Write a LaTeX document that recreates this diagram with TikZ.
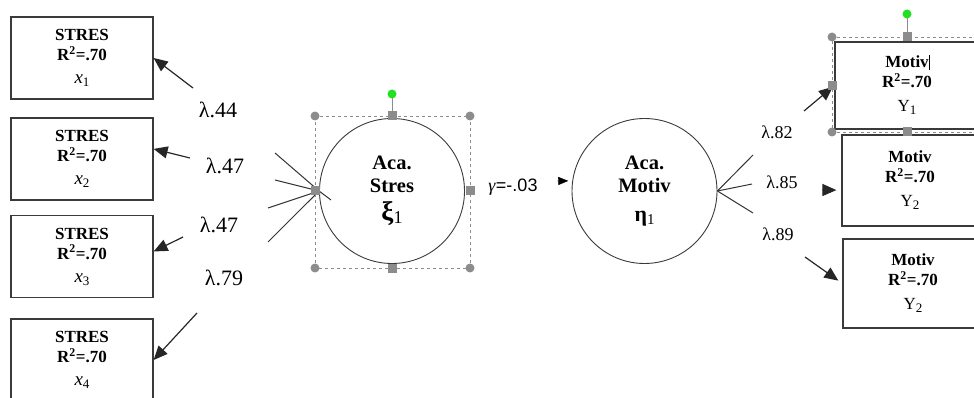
\documentclass[tikz,border=0pt]{standalone}
\usepackage{fontspec}
\setmainfont{Liberation Serif}
\newfontfamily\arialfont{Liberation Sans}
\usetikzlibrary{arrows.meta,calc}
\definecolor{edgeGray}{HTML}{3A3A3A}
\definecolor{hdlGray}{HTML}{8C8C8C}
\definecolor{rotGreen}{HTML}{22E022}
\newcommand{\lowidx}[2][13]{\raisebox{-3pt}{\fontsize{#1}{#1}\selectfont #2}}
\newcommand{\obsX}[2]{\textbf{STRES}\\\textbf{R\textsuperscript{2}=.70}\\[3pt]{\fontsize{19}{19}\selectfont\textit{#1}}\lowidx{#2}}
\newcommand{\obsY}[1]{\textbf{Motiv}\\\textbf{R\textsuperscript{2}=.70}\\[4pt]Y\lowidx{#1}}

\begin{document}
\begin{tikzpicture}[x=1pt,y=-1pt,
      ind/.style={draw=edgeGray,line width=1.2pt,minimum width=142pt,minimum height=82pt,
                  align=center,inner sep=0pt,font=\fontsize{17}{20}\selectfont},
      lat/.style={circle,draw=edgeGray,line width=0.9pt,minimum size=145pt,align=center,
                  inner sep=0pt,font=\fontsize{20.5}{23}\selectfont},
      arr/.style={draw=black!85,line width=1.2pt,-{Triangle[length=14pt,width=12pt]}},
      spoke/.style={draw=black!80,line width=1pt},
      lamL/.style={font=\fontsize{22}{24}\selectfont},
      lamR/.style={font=\fontsize{18}{20}\selectfont},
      sel/.style={draw=hdlGray,dashed,line width=0.6pt}]
    \useasboundingbox (0,0) rectangle (974,398);
    \clip (0,0) rectangle (974,398);

    % observed x
    \node[ind] (x1) at (82,58)    {\obsX{x}{1}};
    \node[ind] (x2) at (82,159)   {\obsX{x}{2}};
    \node[ind] (x3) at (82,256.5) {\obsX{x}{3}};
    \node[ind] (x4) at (82,360)   {\obsX{x}{4}};

    % latents
    \node[lat] (xi)  at (392,191)   {\textbf{Aca.}\\\textbf{Stres}\\[5pt]{\fontsize{27}{27}\selectfont\textbf{ξ}}\lowidx[18]{1}};
    \node[lat] (eta) at (644.5,191) {\textbf{Aca.}\\\textbf{Motiv}\\[6pt]{\fontsize{22}{22}\selectfont\textbf{η}}\lowidx[15]{1}};

    % observed y
    \node[ind,minimum width=144pt,minimum height=87pt] (Y1) at (907,85.5)  {\obsY{1}};
    \node[ind,minimum width=136pt,minimum height=91pt] (Y2) at (910,180.5) {\obsY{2}};
    \node[ind,minimum width=140pt,minimum height=89pt] (Y3) at (913,283.5) {\obsY{2}};

    % loadings x
    \coordinate (s1) at (193,88);
    \coordinate (s2) at (190,158);
    \coordinate (s3) at (183,237);
    \coordinate (s4) at (197,313);
    \draw[arr] (s1) -- (x1.east);
    \draw[arr] (s2) -- (x2.8);
    \draw[arr] (s3) -- (x3.4);
    \draw[arr] (s4) -- (x4.east);
    \node[lamL] (l1) at (218,110) {λ.44};
    \node[lamL] (l2) at (225,166) {λ.47};
    \node[lamL] (l3) at (219,225) {λ.47};
    \node[lamL] (l4) at (224,278) {λ.79};

    \coordinate (a1) at (275,153);
    \coordinate (a2) at (275,180);
    \coordinate (a3) at (268,208);
    \coordinate (a4) at (268,242);
    \foreach \i in {1,...,4}
      \draw[spoke] (a\i) -- (xi.west);
    \coordinate (a5) at (331,200);
    \draw[spoke] (xi.west) -- (a5);

    % gamma
    \node[font=\fontsize{18}{20}\selectfont] (gam) at (513,187) {\textit{γ}{\arialfont =-.03}};
    \coordinate (g0) at (557,181);
    \draw[line width=0.4pt,-{Triangle[length=10pt,width=8pt]},shorten >=4pt] (g0) -- (eta.172);

    % loadings y
    \coordinate (b1) at (753,155);
    \coordinate (b2) at (752,184);
    \coordinate (b3) at (753,213);
    \foreach \i in {1,2,3}
      \draw[spoke] (eta.east) -- (b\i);
    \node[lamR] (m1) at (777,132) {λ.82};
    \node[lamR] (m2) at (782,182) {λ.85};
    \node[lamR] (m3) at (778,234) {λ.89};
    \coordinate (t1) at (804,111);
    \coordinate (t2) at (822,190);
    \coordinate (t3) at (805,257);
    \draw[arr,shorten >=2pt] (t1) -- (Y1.west);
    \draw[arr,shorten >=5pt] (t2) -- (Y2.188);
    \draw[arr,shorten >=5pt] (t3) -- (Y3.west);

    % selection handles
    \draw[sel] (315,116) rectangle (470,268);
    \foreach \x/\y in {315/116,470/116,315/268,470/268}
      \fill[hdlGray] (\x,\y) circle (4.5);
    \foreach \x/\y in {392/116,392/268,315/191,470/191}
      \fill[hdlGray] (\x-4.5,\y-4.5) rectangle (\x+4.5,\y+4.5);
    \draw[hdlGray,line width=0.8pt] (392,98) -- (392,112);
    \fill[rotGreen] (392,94) circle (4.5);

    \draw[sel] (990,37) -- (832,37) -- (832,132) -- (990,132);
    \foreach \x/\y in {832/37,832/132}
      \fill[hdlGray] (\x,\y) circle (4.5);
    \foreach \x/\y in {832/86,907/37,907/132}
      \fill[hdlGray] (\x-4.5,\y-4.5) rectangle (\x+4.5,\y+4.5);
    \draw[hdlGray,line width=0.8pt] (907,18) -- (907,33);
    \fill[rotGreen] (907,14) circle (4.5);
    \draw[line width=0.7pt] (929,55) -- (929,70);
  \end{tikzpicture}
\end{document}
